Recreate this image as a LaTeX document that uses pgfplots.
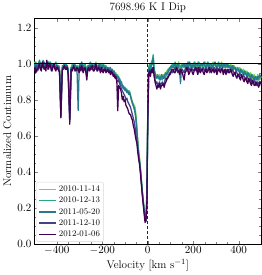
\documentclass[border=0pt]{standalone}
\usepackage{pgfplots}
\usepackage{pgfplotstable}
\pgfplotsset{compat=1.18}
\definecolor{vA}{RGB}{122,209,81}
\definecolor{vB}{RGB}{34,168,132}
\definecolor{vC}{RGB}{42,120,142}
\definecolor{vD}{RGB}{65,68,135}
\definecolor{vE}{RGB}{68,1,84}
\pgfplotstableread{
v a b c d e
-500 0.99 0.98 1.00 0.97 0.96
-496 1.01 0.99 0.99 0.98 0.98
-492 1.00 1.01 0.98 0.99 0.95
-488 0.99 0.98 1.00 0.97 0.97
-484 0.98 0.99 0.97 0.96 0.97
-480 1.00 1.01 0.99 0.98 0.99
-476 1.01 1.00 1.02 0.99 1.00
-472 0.98 0.99 1.00 0.97 0.97
-468 0.99 0.97 0.99 0.98 0.96
-464 1.01 1.00 0.98 0.99 1.01
-460 1.00 1.02 0.98 1.01 0.99
-456 0.99 1.00 1.01 0.98 0.97
-452 0.98 0.99 1.00 0.97 0.98
-448 1.00 0.98 0.99 1.00 0.96
-444 1.01 1.00 0.99 0.99 1.02
-440 0.98 1.01 1.00 0.97 0.99
-436 0.99 0.98 1.01 0.98 0.97
-432 1.01 1.00 0.99 0.99 1.00
-428 1.00 1.01 0.98 1.00 0.99
-424 0.99 0.99 1.00 0.98 0.96
-420 0.98 0.99 1.00 0.96 0.97
-416 1.00 1.00 0.98 0.99 0.99
-412 1.00 0.98 0.99 0.99 1.00
-408 0.98 1.00 0.99 0.97 0.97
-404 0.99 1.01 0.97 0.98 0.96
-400 1.00 0.99 0.99 0.99 0.98
-396 0.98 0.97 0.99 0.97 0.98
-392 0.99 0.99 0.98 0.98 0.96
-388 0.97 0.98 0.96 0.95 0.96
-382 0.78 0.74 0.72 0.71 0.70
-376 0.98 0.99 0.98 0.97 0.96
-371 0.99 0.98 0.99 0.97 0.98
-366 1.00 0.99 1.00 0.98 0.99
-362 0.99 1.00 0.98 0.97 0.97
-358 0.98 1.00 0.98 0.99 0.97
-354 0.99 0.98 0.99 0.97 0.98
-350 0.97 0.96 0.97 0.95 0.94
-343 0.75 0.72 0.70 0.68 0.665
-337 0.98 0.97 0.98 0.96 0.97
-332 1.00 0.99 0.97 0.98 0.96
-326 0.99 1.00 0.99 0.98 0.99
-321 0.98 0.99 1.00 0.96 0.97
-316 0.98 0.98 0.97 0.97 0.96
-311 0.99 0.99 0.96 0.98 0.98
-306 0.97 0.96 0.74 0.96 0.97
-302 0.98 0.99 0.96 0.97 0.95
-298 0.99 1.00 0.98 0.99 0.98
-294 0.98 0.98 1.00 0.97 0.96
-290 1.00 0.99 1.01 0.98 0.99
-287 0.99 1.00 0.98 0.96 0.97
-284 0.98 0.97 0.99 0.96 0.95
-280 1.00 0.99 0.98 0.98 0.97
-276 0.99 1.00 0.98 0.97 0.98
-272 0.98 0.98 0.97 0.96 0.95
-268 0.96 0.95 0.96 0.93 0.91
-264 0.98 0.99 0.98 0.96 0.97
-260 0.99 0.98 0.99 0.97 0.98
-256 0.98 1.00 0.98 0.98 0.96
-252 1.00 1.01 0.99 0.99 0.97
-248 0.99 0.99 0.98 0.97 0.98
-244 0.98 0.99 1.00 0.97 0.99
-240 1.00 0.98 0.99 0.98 0.96
-236 0.99 0.98 0.98 0.99 0.96
-232 0.98 0.99 1.00 0.97 0.98
-228 1.01 1.00 0.99 0.98 1.00
-224 0.99 0.98 0.98 0.96 0.97
-220 0.98 0.99 0.97 0.97 0.96
-216 1.00 0.99 0.99 0.99 0.98
-212 0.99 0.98 1.00 0.98 0.97
-208 0.98 1.00 0.98 0.97 0.95
-204 1.00 0.99 0.98 0.96 0.98
-200 0.99 0.98 0.99 0.98 0.96
-196 0.98 1.00 0.99 0.97 0.95
-192 0.99 0.99 0.98 0.96 0.97
-188 0.99 0.98 0.97 0.98 0.97
-184 0.97 0.99 0.98 0.97 0.95
-180 0.98 0.97 0.98 0.96 0.96
-176 0.98 0.97 0.98 0.96 0.97
-172 0.97 0.98 0.96 0.97 0.95
-168 0.98 0.96 0.97 0.95 0.96
-164 0.96 0.97 0.98 0.96 0.94
-160 0.97 0.96 0.95 0.95 0.96
-156 0.96 0.95 0.97 0.94 0.95
-152 0.95 0.96 0.95 0.95 0.93
-148 0.96 0.94 0.96 0.93 0.94
-144 0.94 0.95 0.93 0.94 0.92
-140 0.95 0.93 0.94 0.92 0.93
-136 0.93 0.94 0.92 0.91 0.90
-132 0.94 0.92 0.93 0.90 0.74
-128 0.92 0.93 0.91 0.91 0.88
-124 0.91 0.90 0.92 0.89 0.87
-120 0.90 0.91 0.89 0.88 0.86
-116 0.89 0.89 0.90 0.86 0.84
-112 0.88 0.87 0.88 0.85 0.80
-108 0.87 0.88 0.86 0.84 0.82
-104 0.87 0.86 0.87 0.83 0.79
-100 0.86 0.87 0.85 0.82 0.80
-96 0.86 0.85 0.86 0.80 0.77
-92 0.85 0.86 0.84 0.81 0.76
-88 0.85 0.84 0.85 0.79 0.75
-84 0.84 0.85 0.83 0.78 0.73
-80 0.85 0.84 0.84 0.77 0.72
-76 0.83 0.82 0.82 0.76 0.72
-72 0.81 0.80 0.80 0.74 0.70
-68 0.79 0.79 0.78 0.72 0.69
-64 0.78 0.77 0.77 0.70 0.66
-60 0.77 0.76 0.75 0.68 0.64
-56 0.76 0.74 0.73 0.65 0.61
-52 0.72 0.70 0.69 0.61 0.58
-48 0.66 0.64 0.63 0.57 0.56
-44 0.58 0.56 0.56 0.53 0.51
-40 0.52 0.50 0.50 0.49 0.47
-36 0.48 0.46 0.46 0.45 0.44
-32 0.42 0.41 0.41 0.40 0.39
-28 0.36 0.35 0.35 0.34 0.33
-24 0.30 0.29 0.29 0.28 0.27
-20 0.25 0.24 0.24 0.23 0.22
-16 0.20 0.19 0.19 0.18 0.17
-12 0.16 0.15 0.15 0.14 0.12
-8 0.14 0.13 0.125 0.13 0.13
-4 0.30 0.28 0.20 0.25 0.22
0 0.75 0.72 0.66 0.70 0.68
4 0.97 0.98 0.96 0.95 0.94
8 0.99 1.00 0.98 0.97 0.96
12 0.97 0.96 0.98 0.95 0.93
16 0.99 1.01 0.99 0.96 0.97
20 1.01 1.02 1.00 0.98 0.95
24 1.00 1.05 1.03 0.97 0.98
28 0.97 0.98 0.96 0.94 0.93
32 0.95 0.94 0.95 0.91 0.90
36 0.93 0.92 0.93 0.89 0.88
40 0.94 0.93 0.92 0.90 0.86
44 0.92 0.94 0.93 0.88 0.88
48 0.93 0.92 0.93 0.89 0.87
52 0.94 0.91 0.92 0.90 0.89
56 0.92 0.93 0.91 0.88 0.86
60 0.93 0.92 0.94 0.89 0.88
64 0.94 0.91 0.93 0.90 0.88
68 0.92 0.93 0.92 0.88 0.89
72 0.93 0.94 0.92 0.89 0.87
76 0.95 0.92 0.94 0.91 0.89
80 0.95 0.93 0.95 0.92 0.90
84 0.96 0.95 0.94 0.91 0.92
88 0.97 0.96 0.95 0.93 0.92
92 0.96 0.97 0.96 0.94 0.93
96 0.96 0.98 0.97 0.95 0.94
100 0.98 0.97 0.98 0.94 0.95
104 0.99 0.98 0.99 0.97 0.96
108 0.98 1.00 0.98 0.95 0.97
112 1.00 0.99 0.98 0.96 0.97
116 0.99 0.98 1.00 0.97 0.95
120 0.98 1.01 1.00 0.98 0.95
124 1.00 0.99 0.98 0.96 0.97
128 0.99 0.98 0.99 0.97 0.98
132 0.98 1.00 1.00 0.95 0.96
136 1.01 1.00 0.98 0.96 0.96
140 0.99 0.99 0.96 0.97 0.94
144 0.97 0.98 0.89 0.95 0.97
148 1.00 0.99 0.97 0.96 0.96
152 0.99 1.00 0.99 0.97 0.95
156 1.00 0.98 0.99 0.96 0.93
160 0.98 0.99 1.00 0.95 0.91
164 0.99 1.00 0.98 0.97 0.95
168 1.00 0.98 0.99 0.98 0.96
172 0.98 0.99 1.00 0.96 0.98
176 0.99 1.01 0.98 0.96 0.97
180 1.01 1.00 0.99 0.98 0.94
184 1.00 0.99 1.01 0.97 0.95
188 0.99 0.98 0.99 0.96 0.97
192 0.98 1.00 0.99 0.98 0.97
196 1.00 0.99 0.98 0.97 0.95
200 0.99 0.98 1.00 0.96 0.94
204 1.00 1.01 0.99 0.97 0.96
208 1.01 1.00 0.98 0.98 0.97
212 0.98 0.99 1.00 0.96 0.98
216 0.99 0.99 1.00 0.97 0.96
220 1.01 0.98 0.99 0.98 0.94
224 1.00 1.01 0.99 0.95 0.98
228 0.99 1.00 0.98 0.97 0.96
232 0.98 0.99 1.00 0.98 0.95
236 1.00 1.00 0.99 0.96 0.97
240 1.00 0.98 0.99 0.97 0.97
244 0.98 0.99 1.00 0.98 0.95
248 0.99 1.00 1.01 0.96 0.94
252 1.01 0.98 0.99 0.97 0.96
256 1.00 0.99 0.98 0.98 0.97
260 0.99 1.00 0.99 0.96 0.95
264 0.98 1.01 1.00 0.97 0.96
268 1.00 1.00 0.98 0.98 0.97
272 1.00 0.99 0.99 0.95 0.98
276 0.98 0.98 1.00 0.97 0.96
280 0.99 1.00 1.00 0.98 0.95
284 1.00 0.99 0.98 0.96 0.97
288 1.01 0.98 0.99 0.97 0.97
292 0.99 1.00 1.00 0.98 0.95
296 0.99 1.00 1.01 0.96 0.96
300 1.00 0.98 0.99 0.97 0.97
304 0.98 0.99 0.98 0.98 0.94
308 0.99 1.00 0.99 0.96 0.96
312 1.00 1.01 1.00 0.97 0.97
316 0.98 0.99 0.98 0.98 0.96
320 0.99 0.98 0.99 0.96 0.95
324 1.01 0.99 1.00 0.97 0.97
328 1.00 1.00 0.98 0.98 0.97
332 0.99 0.98 0.99 0.96 0.94
336 0.98 0.99 1.00 0.95 0.96
340 1.00 1.00 0.98 0.97 0.97
344 0.99 0.98 0.99 0.97 0.94
348 0.98 0.99 1.00 0.95 0.96
352 1.00 1.00 0.98 0.96 0.97
356 0.99 0.98 0.99 0.97 0.95
360 0.98 0.99 0.99 0.97 0.95
364 1.00 0.98 0.97 0.96 0.97
368 0.99 0.97 0.98 0.95 0.96
372 0.97 0.99 0.99 0.97 0.94
376 0.98 0.99 0.97 0.96 0.93
380 0.99 0.97 0.98 0.95 0.95
384 0.97 0.98 0.98 0.94 0.95
388 0.98 0.97 0.96 0.96 0.93
392 0.98 0.96 0.97 0.95 0.92
396 0.96 0.98 0.97 0.94 0.94
400 0.96 0.97 0.96 0.93 0.94
404 0.98 0.96 0.95 0.95 0.92
408 0.97 0.95 0.97 0.94 0.91
412 0.95 0.97 0.96 0.93 0.94
416 0.95 0.96 0.95 0.92 0.93
420 0.97 0.95 0.94 0.94 0.91
424 0.96 0.94 0.96 0.93 0.90
428 0.94 0.96 0.95 0.92 0.92
432 0.94 0.95 0.94 0.91 0.92
436 0.96 0.94 0.93 0.93 0.90
440 0.95 0.93 0.95 0.92 0.89
444 0.93 0.95 0.94 0.90 0.92
448 0.93 0.94 0.93 0.90 0.91
452 0.95 0.93 0.92 0.92 0.89
456 0.94 0.92 0.94 0.91 0.88
460 0.92 0.94 0.93 0.89 0.91
464 0.92 0.93 0.92 0.89 0.90
468 0.94 0.92 0.91 0.91 0.88
472 0.93 0.91 0.93 0.90 0.88
476 0.91 0.93 0.92 0.88 0.90
480 0.92 0.92 0.91 0.88 0.89
484 0.94 0.91 0.93 0.90 0.88
488 0.93 0.91 0.92 0.89 0.87
492 0.91 0.93 0.94 0.88 0.90
496 0.92 0.93 0.93 0.90 0.89
500 0.93 0.92 0.93 0.89 0.90
}\spec
\begin{document}
\begin{tikzpicture}
\begin{axis}[
  scale only axis, width=225pt, height=223pt,
  xmin=-500, xmax=500, ymin=0, ymax=1.25,
  xtick={-400,-200,0,200,400},
  ytick={0,0.2,0.4,0.6,0.8,1.0,1.2},
  minor x tick num=3, minor y tick num=3,
  tick align=inside, xtick pos=both, ytick pos=both,
  major tick length=3.5pt, minor tick length=2pt,
  tick label style={font=\fontsize{10.8}{13}\selectfont},
  label style={font=\fontsize{11}{13}\selectfont},
  yticklabel style={/pgf/number format/fixed, /pgf/number format/fixed zerofill, /pgf/number format/precision=1, xshift=1pt},
  xticklabel style={yshift=1pt},
  title={7698.96 K I Dip},
  title style={font=\fontsize{11}{13}\selectfont, yshift=-4pt},
  xlabel={Velocity [km s$^{-1}$]},
  xlabel style={yshift=2pt},
  ylabel={Normalized Continuum},
  ylabel style={yshift=-1pt},
  axis line style={line width=0.8pt},
  legend style={at={(0.01,0.01)}, anchor=south west, font=\fontsize{8.5}{10}\selectfont, draw=black!15, rounded corners=2pt, inner sep=1.5pt, row sep=0pt},
  legend cell align=left,
  legend image post style={line width=1.5pt},
  every axis plot/.append style={no marks, line width=1.25pt, line join=round},
]
\addplot[color=vA] table[x=v, y=a] {\spec};
\addlegendentry{2010-11-14}
\addplot[color=vB] table[x=v, y=b] {\spec};
\addlegendentry{2010-12-13}
\addplot[color=vC] table[x=v, y=c] {\spec};
\addlegendentry{2011-05-20}
\addplot[color=vD] table[x=v, y=d] {\spec};
\addlegendentry{2011-12-10}
\addplot[color=vE] table[x=v, y=e] {\spec};
\addlegendentry{2012-01-06}
\addplot[black, line width=0.9pt, forget plot] coordinates {(-500,1) (500,1)};
\addplot[black!85, line width=1.1pt, dash pattern=on 3pt off 2pt, forget plot] coordinates {(0,0) (0,1.25)};
\end{axis}
\end{tikzpicture}
\end{document}
